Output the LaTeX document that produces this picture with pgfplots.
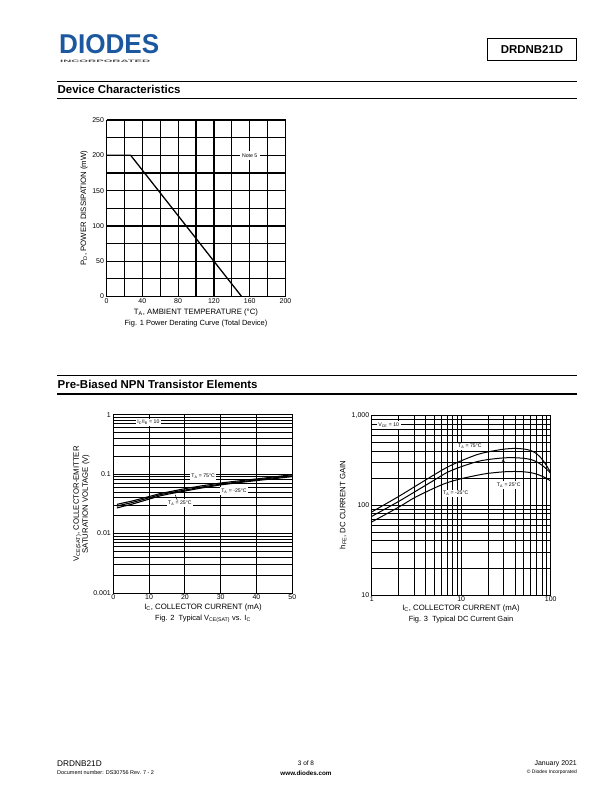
\documentclass[border=0pt]{standalone}
\usepackage{pgfplots}
\pgfplotsset{compat=1.18}
\usepackage{fontspec}
\setmainfont{Liberation Sans}
\definecolor{diodesblue}{RGB}{28,88,160}
\newcommand{\tl}{\fontsize{7}{8}\selectfont}
\newcommand{\al}{\fontsize{7.8}{9}\selectfont}
\newcommand{\cp}{\fontsize{7.5}{8.5}\selectfont}
\newcommand{\sm}{\fontsize{5.2}{6}\selectfont}
\pgfplotsset{
  dsgrid/.style={
    scale only axis, grid=both,
    major grid style={black,line width=1pt},
    minor grid style={black,line width=0.9pt},
    axis line style={black,line width=1pt},
    tick style={draw=none},
    ticklabel style={font=\tl},
    /pgf/number format/assume math mode=true,
    xticklabel style={yshift=1.5pt},
    yticklabel style={xshift=1pt},
  }
}
\begin{document}
\begin{tikzpicture}
\begin{scope}[x=1bp,y=-1bp]
\path[use as bounding box] (0,0) rectangle (612,792);
% header
\node[anchor=west,inner sep=0] at (59,44.5) {\color{diodesblue}\resizebox{100bp}{19bp}{\bfseries DIODES}};
\node[anchor=west,inner sep=0] at (60,61.8) {\color{black!70}\resizebox{90bp}{2.4bp}{\bfseries INCORPORATED}};
\draw[line width=0.9pt] (487.5,38.5) rectangle (576.5,60.5);
\node[font=\fontsize{11.5}{12}\selectfont\bfseries] at (532,49.5) {DRDNB21D};
% section 1
\draw[line width=0.6pt] (57,81) -- (577,81);
\node[anchor=west,inner sep=0,font=\fontsize{11.5}{12}\selectfont\bfseries] at (57.5,89) {Device Characteristics};
\draw[line width=2pt] (57,98.5) -- (577,98.5);
% section 2
\draw[line width=0.6pt] (57,375.5) -- (577,375.5);
\node[anchor=west,inner sep=0,font=\fontsize{11.5}{12}\selectfont\bfseries] at (57.5,384) {Pre-Biased NPN Transistor Elements};
\draw[line width=2pt] (57,393.5) -- (577,393.5);
% fig1 labels
\node[rotate=90,font=\al] at (84,208) {P\textsubscript{D}, POWER DISSIPATION (mW)};
\node[font=\al] at (196,312) {T\textsubscript{A}, AMBIENT TEMPERATURE (°C)};
\node[font=\cp] at (196,323.5) {Fig. 1 Power Derating Curve (Total Device)};
% fig2 labels
\node[rotate=90,font=\al,align=center] at (81.5,504) {V\textsubscript{CE(SAT)}, COLLECTOR-EMITTER\\SATURATION VOLTAGE (V)};
\node[font=\al] at (203,607) {I\textsubscript{C}, COLLECTOR CURRENT (mA)};
\node[font=\cp] at (203,619) {Fig. 2~ Typical V\textsubscript{CE(SAT)} vs. I\textsubscript{C}};
% fig3 labels
\node[rotate=90,font=\al] at (343,505) {h\textsubscript{FE}, DC CURRENT GAIN};
\node[font=\al] at (461,608) {I\textsubscript{C}, COLLECTOR CURRENT (mA)};
\node[font=\cp] at (461,620) {Fig. 3~ Typical DC Current Gain};
% footer
\node[anchor=west,inner sep=0,font=\fontsize{8.3}{9}\selectfont] at (57,764) {DRDNB21D};
\node[anchor=west,inner sep=0,font=\fontsize{5.5}{6}\selectfont] at (57,773) {Document number: DS30756 Rev. 7 - 2};
\node[inner sep=0,font=\fontsize{6.5}{7}\selectfont] at (306,763) {3 of 8};
\node[inner sep=0,font=\fontsize{6.3}{7}\selectfont\bfseries] at (306,773) {www.diodes.com};
\node[anchor=east,inner sep=0,font=\fontsize{7}{8}\selectfont] at (577,764) {January 2021};
\node[anchor=east,inner sep=0,font=\fontsize{5}{6}\selectfont] at (577,772.5) {© Diodes Incorporated};
\end{scope}

% ---------- Fig 1 ----------
\begin{axis}[dsgrid, at={(106.5bp,-296.5bp)}, anchor=south west,
  width=179bp, height=176.5bp,
  xmin=0, xmax=200, ymin=0, ymax=250,
  xtick={0,40,80,120,160,200}, minor xtick={20,60,100,140,180},
  ytick={0,50,100,150,200,250}, minor ytick={25,75,125,175,225},
  major grid style={black,line width=1.2pt},
  minor grid style={black,line width=1.2pt}]
\addplot[black,line width=1.3pt] coordinates {(0,200)(27,200)(151,0)};
\node[fill=white,font=\sm,inner sep=2.5pt] at (axis cs:160,200) {Note 5};
\end{axis}

% ---------- Fig 2 ----------
\begin{axis}[dsgrid, at={(113.3bp,-593bp)}, anchor=south west,
  width=179bp, height=178.3bp,
  xmin=0, xmax=50, ymode=log, ymin=0.001, ymax=1,
  xtick={0,10,20,30,40,50},
  ytick={0.001,0.01,0.1,1}, yticklabels={0.001,0.01,0.1,1},
  minor ytick={0.002,0.003,0.004,0.005,0.006,0.007,0.008,0.009,
               0.02,0.03,0.04,0.05,0.06,0.07,0.08,0.09,
               0.2,0.3,0.4,0.5,0.6,0.7,0.8,0.9}]
\addplot[black,line width=1.1pt] coordinates {(1,0.031)(3,0.033)(5,0.035)(8,0.039)(10,0.042)(13,0.047)(16,0.051)(20,0.057)(25,0.064)(30,0.071)(35,0.077)(40,0.083)(45,0.090)(50,0.098)};
\addplot[black,line width=1.1pt] coordinates {(1,0.029)(3,0.031)(5,0.033)(8,0.037)(10,0.040)(13,0.045)(16,0.049)(20,0.054)(25,0.061)(30,0.068)(35,0.074)(40,0.080)(45,0.087)(50,0.094)};
\addplot[black,line width=1.1pt] coordinates {(1,0.027)(3,0.029)(5,0.031)(8,0.035)(10,0.038)(13,0.043)(16,0.047)(20,0.052)(25,0.059)(30,0.066)(35,0.072)(40,0.078)(45,0.084)(50,0.091)};
\node[fill=white,font=\sm,inner sep=1.5pt] at (axis cs:9.8,0.74) {I\textsubscript{C}/I\textsubscript{B} = 10};
\node[fill=white,font=\sm,inner sep=1.5pt] at (axis cs:25.1,0.091) {T\textsubscript{A} = 75°C};
\node[fill=white,font=\sm,inner sep=1.5pt] at (axis cs:33.7,0.052) {T\textsubscript{A} = -25°C};
\node[fill=white,font=\sm,inner sep=1.5pt] at (axis cs:18.6,0.0324) {T\textsubscript{A} = 25°C};
\draw[black,line width=0.5pt] (axis cs:17.9,0.036) -- (axis cs:17.3,0.045);
\end{axis}

% ---------- Fig 3 ----------
\begin{axis}[dsgrid, at={(371.7bp,-595bp)}, anchor=south west,
  width=179bp, height=179.7bp,
  xmode=log, ymode=log, xmin=1, xmax=100, ymin=10, ymax=1000,
  xtick={1,10,100}, xticklabels={1,10,100},
  ytick={10,100,1000}, yticklabels={10,100,{1,000}},
  minor xtick={2,3,4,5,6,7,8,9,20,30,40,50,60,70,80,90},
  minor ytick={20,30,40,50,60,70,80,90,200,300,400,500,600,700,800,900}]
\addplot[black,line width=1pt,smooth] coordinates {(1,84)(2,125)(3,160)(5,218)(7,265)(10,312)(15,365)(20,392)(30,420)(40,428)(50,422)(60,405)(70,372)(80,325)(90,275)(100,230)};
\addplot[black,line width=1pt,smooth] coordinates {(1,75)(2,110)(3,140)(5,190)(7,232)(10,268)(15,305)(20,322)(30,336)(40,337)(50,332)(60,322)(70,303)(80,278)(90,252)(100,226)};
\addplot[black,line width=1pt,smooth] coordinates {(1,65)(2,95)(3,121)(5,155)(7,178)(10,197)(15,215)(20,226)(30,235)(40,237)(50,235)(60,230)(70,221)(80,210)(90,198)(100,186)};
\node[fill=white,font=\sm,inner sep=1.5pt] at (axis cs:1.55,780) {V\textsubscript{CE} = 10};
\node[fill=white,font=\sm,inner sep=1pt] at (axis cs:12.5,450) {T\textsubscript{A} = 75°C};
\node[fill=white,font=\sm,inner sep=1.5pt] at (axis cs:34,167) {T\textsubscript{A} = 25°C};
\node[fill=white,font=\sm,inner sep=1.5pt] at (axis cs:8.7,135) {T\textsubscript{A} = -25°C};
\draw[->,>=stealth,black,line width=0.5pt] (axis cs:29.5,190) -- (axis cs:29.5,328);
\end{axis}
\end{tikzpicture}
\end{document}
